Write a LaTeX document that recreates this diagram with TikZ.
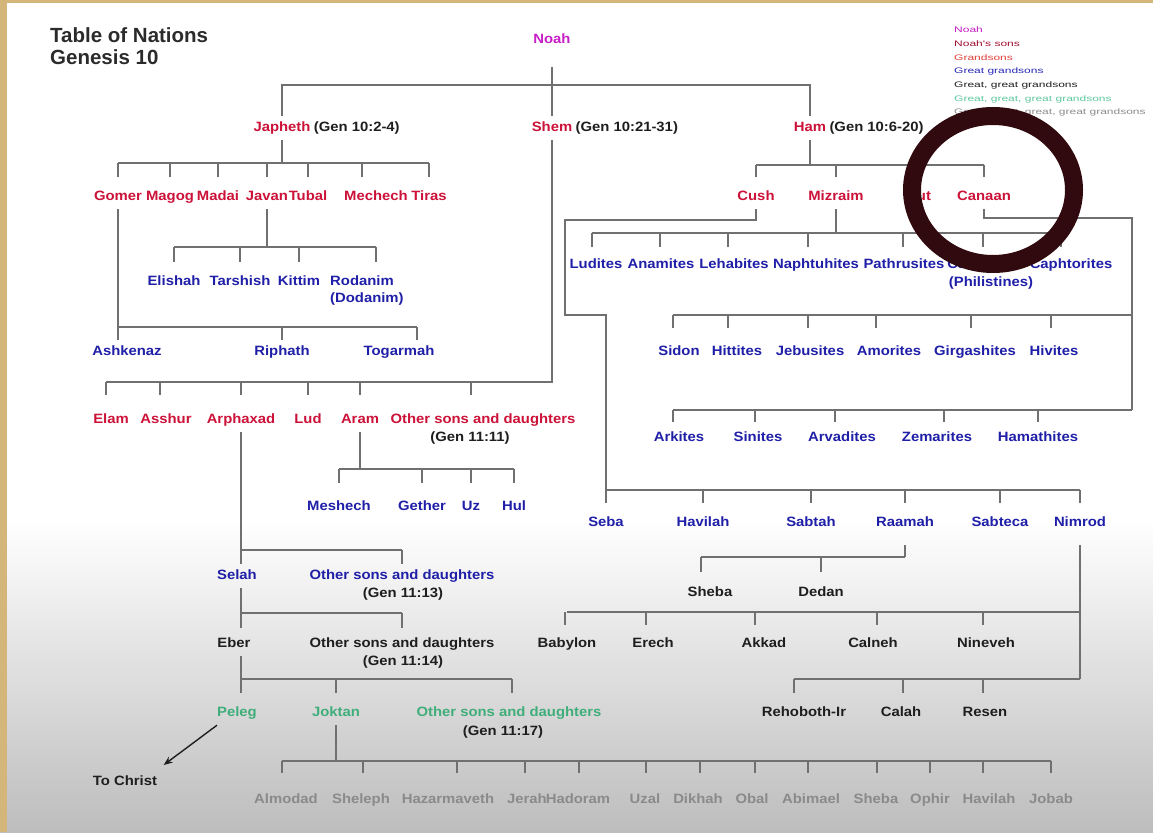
\documentclass[tikz,border=0pt]{standalone}
\usepackage{fontspec}
\usetikzlibrary{calc,arrows.meta}
\newfontfamily\lbfam[FakeStretch=1.1]{Liberation Sans}
\newfontfamily\lgfam[FakeStretch=1.5]{Liberation Sans}
\newfontfamily\ttfam{Liberation Sans}
\definecolor{cTitle}{HTML}{2B2B2B}
\definecolor{cNoah}{HTML}{C81EC8}
\definecolor{cRed}{HTML}{CC1238}
\definecolor{cBlue}{HTML}{1F1FA8}
\definecolor{cGrn}{HTML}{3FAE7A}
\definecolor{cGry}{HTML}{8A8A8A}
\definecolor{cBlk}{HTML}{1E1E1E}
\definecolor{cLine}{HTML}{707070}
\definecolor{cRing}{HTML}{300A0F}
\definecolor{cTan}{HTML}{D5B67A}
\definecolor{cBot}{HTML}{BDBDBD}
\definecolor{cSons}{HTML}{9E1030}
\definecolor{cGrand}{HTML}{E2403A}
\definecolor{cGG}{HTML}{2A2ABA}
\definecolor{cGGG}{HTML}{60C8A0}
\definecolor{cGGGG}{HTML}{8C8C8C}
\tikzset{
  lb/.style={font=\lbfam\bfseries\fontsize{13.5}{15}\selectfont, inner xsep=0pt, inner ysep=6pt, text height=9.5pt, text depth=2.5pt},
  tred/.style={lb,text=cRed},
  tblue/.style={lb,text=cBlue},
  tblk/.style={lb,text=cBlk},
  tgrn/.style={lb,text=cGrn},
  tgry/.style={lb,text=cGry},
  ln/.style={draw=cLine, line width=1.6pt},
  arr/.style={draw=cBlk, line width=1.4pt, -{Stealth[length=9pt,width=7pt]}},
  lg/.style={font=\lgfam\fontsize{8}{9}\selectfont, anchor=west, inner sep=0pt},
}
\newcommand\tk[4]{\draw[ln,shorten >=#4pt] ($(#1.north |- #2)+(#3,0)$) -- ($(#1.north)+(#3,0)$);}
\begin{document}
\begin{tikzpicture}[x=1pt,y=-1pt]
\useasboundingbox (0,0) rectangle (1153,832);
% background
\fill[white] (0,0) rectangle (1153,832);
\shade[top color=white, bottom color=cBot] (0,520) rectangle (1153,832);
\fill[cTan] (0,0) rectangle (7,832);
\fill[cTan] (0,0) rectangle (1153,3);

% title
\node[anchor=north west, inner sep=0pt, align=left, text=cTitle, font=\ttfam\bfseries\fontsize{20.5}{22}\selectfont] (title) at (50,27) {Table of Nations\\Genesis 10};

% legend
\node[lg,text=cNoah] (lg1) at (954,30) {Noah};
\node[lg,text=cSons] (lg2) at (954,43.8) {Noah's sons};
\node[lg,text=cGrand] (lg3) at (954,57.6) {Grandsons};
\node[lg,text=cGG] (lg4) at (954,71.4) {Great grandsons};
\node[lg,text=cBlk] (lg5) at (954,85.2) {Great, great grandsons};
\node[lg,text=cGGG] (lg6) at (954,99) {Great, great, great grandsons};
\node[lg,text=cGGGG] (lg7) at (954,112.8) {Great, great, great, great grandsons};

% Noah and sons
\node[lb,text=cNoah] (noah) at (552,40) {Noah};
\node[tred] (jap) at (282,128) {Japheth};
\node[tblk,anchor=west] (japref) at ($(jap.east)+(3,0)$) {(Gen 10:2-4)};
\node[tred] (shem) at (552,128) {Shem};
\node[tblk,anchor=west] (shemref) at ($(shem.east)+(3,0)$) {(Gen 10:21-31)};
\node[tred] (ham) at (810,128) {Ham};
\node[tblk,anchor=west] (hamref) at ($(ham.east)+(3,0)$) {(Gen 10:6-20)};

% Japheth's sons
\node[tred] (gomer) at (118,197) {Gomer};
\node[tred] (magog) at (170,197) {Magog};
\node[tred] (madai) at (218,197) {Madai};
\node[tred] (javan) at (267,197) {Javan};
\node[tred] (tubal) at (308,197) {Tubal};
\node[tred] (mechech) at (376,197) {Mechech};
\node[tred] (tiras) at (429,197) {Tiras};
% Javan's sons
\node[tblue] (elishah) at (174,282) {Elishah};
\node[tblue] (tarshish) at (240,282) {Tarshish};
\node[tblue] (kittim) at (299,282) {Kittim};
\node[tblue] (rodanim) at (362,282) {Rodanim};
\node[tblue,anchor=west] (dodanim) at (330,299) {(Dodanim)};
% Gomer's sons
\node[tblue] (ashk) at (127,352) {Ashkenaz};
\node[tblue] (riphath) at (282,352) {Riphath};
\node[tblue] (togarmah) at (399,352) {Togarmah};

% Shem's sons
\node[tred] (elam) at (111,420) {Elam};
\node[tred] (asshur) at (166,420) {Asshur};
\node[tred] (arph) at (241,420) {Arphaxad};
\node[tred] (lud) at (308,420) {Lud};
\node[tred] (aram) at (360,420) {Aram};
\node[tred] (oth11) at (483,420) {Other sons and daughters};
\node[tblk] (gen1111) at (470,438) {(Gen 11:11)};
% Aram's sons
\node[tblue] (meshech) at (339,507) {Meshech};
\node[tblue] (gether) at (422,507) {Gether};
\node[tblue] (uz) at (471,507) {Uz};
\node[tblue] (hul) at (514,507) {Hul};
% Arphaxad line
\node[tblue] (selah) at (237,576) {Selah};
\node[tblue] (oth13) at (402,576) {Other sons and daughters};
\node[tblk] (gen1113) at (403,594) {(Gen 11:13)};
\node[tblk] (eber) at (234,644) {Eber};
\node[tblk] (oth14) at (402,644) {Other sons and daughters};
\node[tblk] (gen1114) at (403,662) {(Gen 11:14)};
\node[tgrn] (peleg) at (237,713) {Peleg};
\node[tgrn] (joktan) at (336,713) {Joktan};
\node[tgrn] (oth17) at (509,713) {Other sons and daughters};
\node[tblk] (gen1117) at (503,732) {(Gen 11:17)};
\node[tblk] (tochrist) at (125,782) {To Christ};
% Joktan's sons
\node[tgry] (almodad) at (286,800) {Almodad};
\node[tgry] (sheleph) at (361,800) {Sheleph};
\node[tgry] (hazar) at (448,800) {Hazarmaveth};
\node[tgry] (jerah) at (527,800) {Jerah};
\node[tgry] (hadoram) at (578,800) {Hadoram};
\node[tgry] (uzal) at (645,800) {Uzal};
\node[tgry] (dikhah) at (698,800) {Dikhah};
\node[tgry] (obal) at (752,800) {Obal};
\node[tgry] (abimael) at (811,800) {Abimael};
\node[tgry] (shebaj) at (876,800) {Sheba};
\node[tgry] (ophir) at (930,800) {Ophir};
\node[tgry] (havilahj) at (989,800) {Havilah};
\node[tgry] (jobab) at (1051,800) {Jobab};

% Ham's sons
\node[tred] (cush) at (756,197) {Cush};
\node[tred] (mizraim) at (836,197) {Mizraim};
\node[tred] (put) at (919,197) {Put};
\node[tred] (canaan) at (984,197) {Canaan};
% Mizraim's sons
\node[tblue] (ludites) at (596,265) {Ludites};
\node[tblue] (anamites) at (661,265) {Anamites};
\node[tblue] (lehabites) at (734,265) {Lehabites};
\node[tblue] (naphtuhites) at (816,265) {Naphtuhites};
\node[tblue] (pathrusites) at (904,265) {Pathrusites};
\node[tblue] (casluhites) at (985,265) {Casluhites};
\node[tblue] (caphtorites) at (1071,265) {Caphtorites};
\node[tblue] (philistines) at (991,283) {(Philistines)};
% Canaan's sons
\node[tblue] (sidon) at (679,352) {Sidon};
\node[tblue] (hittites) at (737,352) {Hittites};
\node[tblue] (jebusites) at (810,352) {Jebusites};
\node[tblue] (amorites) at (889,352) {Amorites};
\node[tblue] (girgashites) at (975,352) {Girgashites};
\node[tblue] (hivites) at (1054,352) {Hivites};
\node[tblue] (arkites) at (679,438) {Arkites};
\node[tblue] (sinites) at (758,438) {Sinites};
\node[tblue] (arvadites) at (842,438) {Arvadites};
\node[tblue] (zemarites) at (937,438) {Zemarites};
\node[tblue] (hamathites) at (1038,438) {Hamathites};
% Cush's sons
\node[tblue] (seba) at (606,523) {Seba};
\node[tblue] (havilah) at (703,523) {Havilah};
\node[tblue] (sabtah) at (811,523) {Sabtah};
\node[tblue] (raamah) at (905,523) {Raamah};
\node[tblue] (sabteca) at (1000,523) {Sabteca};
\node[tblue] (nimrod) at (1080,523) {Nimrod};
% Raamah's sons
\node[tblk] (sheba) at (710,593) {Sheba};
\node[tblk] (dedan) at (821,593) {Dedan};
% Nimrod's cities
\node[tblk] (babylon) at (567,644) {Babylon};
\node[tblk] (erech) at (653,644) {Erech};
\node[tblk] (akkad) at (764,644) {Akkad};
\node[tblk] (calneh) at (873,644) {Calneh};
\node[tblk] (nineveh) at (986,644) {Nineveh};
\node[tblk] (rehoboth) at (804,713) {Rehoboth-Ir};
\node[tblk] (calah) at (901,713) {Calah};
\node[tblk] (resen) at (985,713) {Resen};

% ---------- connectors ----------
\coordinate (bTop) at (0,85);
\draw[ln,shorten <=15pt] (noah.south) -- (shem.north);
\draw[ln] (jap.north) -- (jap.north |- bTop) -- (ham.north |- bTop) -- (ham.north);

% Japheth
\coordinate (bJ) at (0,163);
\draw[ln] (jap.south) -- (jap.south |- bJ);
\draw[ln] (gomer.north |- bJ) -- (tiras.north |- bJ);
\foreach \c in {gomer,magog,madai,javan,tubal,tiras} {\tk{\c}{bJ}{0}{8}}
\tk{mechech}{bJ}{-14}{8}
% Gomer
\coordinate (bG) at (0,327);
\draw[ln] (gomer.south) -- (gomer.south |- ashk.north);
\draw[ln] (gomer.south |- bG) -- ($(togarmah.north |- bG)+(18,0)$);
\tk{riphath}{bG}{0}{0}
\tk{togarmah}{bG}{18}{0}
% Javan
\coordinate (bV) at (0,247);
\draw[ln] (javan.south) -- (javan.south |- bV);
\draw[ln] (elishah.north |- bV) -- ($(rodanim.north |- bV)+(14,0)$);
\foreach \c in {elishah,tarshish,kittim} {\tk{\c}{bV}{0}{8}}
\tk{rodanim}{bV}{14}{8}

% Shem
\coordinate (bS) at (0,382);
\draw[ln] (shem.south) -- (shem.south |- bS) -- ($(elam.north |- bS)+(-5,0)$);
\tk{elam}{bS}{-5}{13}
\tk{asshur}{bS}{-6}{13}
\tk{arph}{bS}{0}{13}
\tk{lud}{bS}{0}{13}
\tk{aram}{bS}{0}{13}
\tk{oth11}{bS}{-12}{13}
% Aram
\coordinate (bA) at (0,469);
\draw[ln] (aram.south) -- (aram.south |- bA);
\draw[ln] (meshech.north |- bA) -- (hul.north |- bA);
\foreach \c in {meshech,gether,uz,hul} {\tk{\c}{bA}{0}{12}}
% Arphaxad -> Selah -> Eber -> Peleg
\coordinate (b1) at (0,550);
\coordinate (b2) at (0,613);
\coordinate (b3) at (0,679);
\draw[ln] (arph.south) -- (arph.south |- selah.north);
\draw[ln] (arph.south |- b1) -- (oth13.north |- b1);
\tk{oth13}{b1}{0}{0}
\draw[ln,shorten >=4pt] (arph.south |- selah.south) -- (arph.south |- eber.north);
\draw[ln] (arph.south |- b2) -- (oth14.north |- b2);
\tk{oth14}{b2}{0}{4}
\draw[ln,shorten >=8pt] (arph.south |- eber.south) -- (arph.south |- peleg.north);
\draw[ln] (arph.south |- b3) -- ($(oth17.north |- b3)+(3,0)$);
\tk{joktan}{b3}{0}{8}
\tk{oth17}{b3}{3}{8}
\draw[arr, shorten >=8pt] (peleg.south west) -- (tochrist.north east);
% Joktan
\coordinate (bK) at (0,761);
\draw[ln] (joktan.south) -- (joktan.south |- bK);
\draw[ln] ($(almodad.north |- bK)+(-4,0)$) -- (jobab.north |- bK);
\tk{almodad}{bK}{-4}{15}
\tk{sheleph}{bK}{2}{15}
\tk{hazar}{bK}{9}{15}
\tk{jerah}{bK}{-2}{15}
\tk{hadoram}{bK}{1}{15}
\tk{uzal}{bK}{1}{15}
\tk{dikhah}{bK}{2}{15}
\tk{obal}{bK}{3}{15}
\tk{abimael}{bK}{-3}{15}
\tk{shebaj}{bK}{1}{15}
\tk{ophir}{bK}{0}{15}
\tk{havilahj}{bK}{-6}{15}
\tk{jobab}{bK}{0}{15}

% Ham
\coordinate (bH) at (0,165);
\draw[ln] (ham.south) -- (ham.south |- bH);
\draw[ln] (cush.north |- bH) -- (canaan.north |- bH);
\foreach \c in {cush,mizraim,put,canaan} {\tk{\c}{bH}{0}{8}}
% Mizraim
\coordinate (bM) at (0,233);
\draw[ln] (mizraim.south) -- (mizraim.south |- bM);
\draw[ln] ($(ludites.north |- bM)+(-4,0)$) -- ($(caphtorites.north |- bM)+(-10,0)$);
\tk{ludites}{bM}{-4}{6}
\tk{anamites}{bM}{-1}{6}
\tk{lehabites}{bM}{-6}{6}
\tk{naphtuhites}{bM}{-8}{6}
\tk{pathrusites}{bM}{-1}{6}
\tk{casluhites}{bM}{-2}{6}
\tk{caphtorites}{bM}{-10}{6}
% Canaan
\coordinate (kE) at (1132,218);
\coordinate (kB1) at (1132,315);
\coordinate (kB2) at (1132,410);
\draw[ln] (canaan.south) -- (canaan.south |- kE) -- (kE) -- (kB2);
\draw[ln] ($(sidon.north |- kB1)+(-6,0)$) -- (kB1);
\tk{sidon}{kB1}{-6}{12}
\tk{hittites}{kB1}{-9}{12}
\tk{jebusites}{kB1}{-2}{12}
\tk{amorites}{kB1}{-13}{12}
\tk{girgashites}{kB1}{-4}{12}
\tk{hivites}{kB1}{-3}{12}
\draw[ln] ($(arkites.north |- kB2)+(-6,0)$) -- (kB2);
\tk{arkites}{kB2}{-6}{4}
\tk{sinites}{kB2}{-3}{4}
\tk{arvadites}{kB2}{-7}{4}
\tk{zemarites}{kB2}{7}{4}
\tk{hamathites}{kB2}{0}{4}
% Cush
\coordinate (cA) at (565,220);
\coordinate (cB) at (565,315);
\coordinate (bC) at (0,490);
\draw[ln] (cush.south) -- (cush.south |- cA) -- (cA) -- (cB) -- (seba.north |- cB) -- (seba.north |- bC);
\draw[ln] (seba.north |- bC) -- (nimrod.north |- bC);
\foreach \c in {seba,havilah,sabtah,raamah,sabteca,nimrod} {\tk{\c}{bC}{0}{8}}
% Raamah
\coordinate (bR) at (0,557);
\draw[ln,shorten <=10pt] (raamah.south) -- (raamah.south |- bR);
\draw[ln] (raamah.south |- bR) -- ($(sheba.north |- bR)+(-9,0)$);
\tk{sheba}{bR}{-9}{9}
\tk{dedan}{bR}{0}{9}
% Nimrod
\coordinate (bN1) at (0,612);
\coordinate (bN2) at (0,679);
\draw[ln,shorten <=10pt] (nimrod.south) -- (nimrod.south |- bN2);
\draw[ln] (babylon.north |- bN1) -- (nimrod.south |- bN1);
\tk{babylon}{bN1}{-2}{7}
\tk{erech}{bN1}{-7}{7}
\tk{akkad}{bN1}{-9}{7}
\tk{calneh}{bN1}{4}{7}
\tk{nineveh}{bN1}{-3}{7}
\draw[ln] ($(rehoboth.north |- bN2)+(-10,0)$) -- (nimrod.south |- bN2);
\tk{rehoboth}{bN2}{-10}{8}
\tk{calah}{bN2}{2}{8}
\tk{resen}{bN2}{-2}{8}

% highlight ring
\draw[draw=cRing, line width=18pt] (993,190) ellipse [x radius=81pt, y radius=74pt];
\end{tikzpicture}
\end{document}
